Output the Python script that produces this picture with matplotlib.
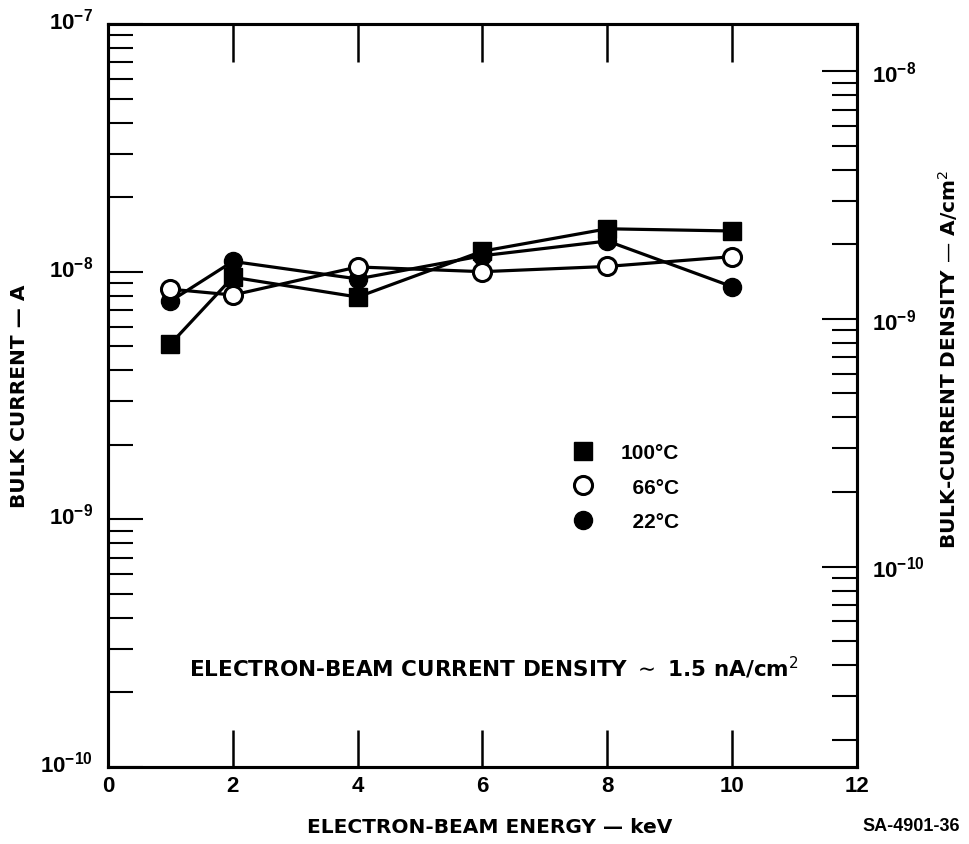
"""
Bulk current vs electron-beam energy (log plot with current-density axis)
"""

import matplotlib
matplotlib.use('Agg')
import matplotlib.pyplot as plt
import matplotlib.transforms as mtransforms
from matplotlib.lines import Line2D
from matplotlib.ticker import LogLocator, NullFormatter

plt.rcParams['font.family'] = ['Liberation Sans', 'DejaVu Sans']
plt.rcParams['axes.unicode_minus'] = True

# data
energy_kev = [1, 2, 4, 6, 8, 10]
current_100c = [5.1e-9, 9.5e-9, 7.9e-9, 1.21e-8, 1.49e-8, 1.46e-8]
current_66c = [8.5e-9, 8.05e-9, 1.045e-8, 1.0e-8, 1.05e-8, 1.15e-8]
current_22c = [7.6e-9, 1.10e-8, 9.35e-9, 1.16e-8, 1.33e-8, 8.7e-9]
sample_area_cm2 = 6.45  # 1 in^2

x_ticks = [0, 2, 4, 6, 8, 10, 12]
y_lim = (1e-10, 1e-7)

label_font = dict(family='DejaVu Sans', fontweight='bold', fontsize=14.5)
tick_size = 16

fig = plt.figure(figsize=(9.7, 8.45), dpi=100)
ax = fig.add_axes([0.1113, 0.0911, 0.7722, 0.8793])

lw = 2.3
ax.plot(energy_kev, current_100c, color='black', lw=lw, marker='s', ms=12.5,
        mfc='black', mec='black', zorder=3)
ax.plot(energy_kev, current_22c, color='black', lw=lw, marker='o', ms=13,
        mfc='black', mec='black', zorder=3)
ax.plot(energy_kev, current_66c, color='black', lw=lw, marker='o', ms=13,
        mfc='white', mec='black', mew=2.2, zorder=4)

ax.set_yscale('log')
ax.set_ylim(*y_lim)
ax.set_xlim(0, 12)
ax.set_xticks(x_ticks)

for sp in ax.spines.values():
    sp.set_linewidth(2.2)

ax.tick_params(axis='x', which='major', direction='in', length=27, width=1.8,
               top=True, bottom=True, pad=6)
ax.tick_params(axis='y', which='major', direction='in', length=25, width=1.5,
               right=False, pad=11)
ax.tick_params(axis='y', which='minor', direction='in', length=18, width=1.5,
               right=False)
ax.yaxis.set_major_locator(LogLocator(base=10, numticks=10))
ax.yaxis.set_minor_locator(LogLocator(base=10, subs=range(2, 10), numticks=20))
ax.yaxis.set_minor_formatter(NullFormatter())

# right axis: current density (current / sample area)
ax2 = ax.twinx()
ax2.set_yscale('log')
ax2.set_ylim(y_lim[0] / sample_area_cm2, y_lim[1] / sample_area_cm2)
ax2.yaxis.set_major_locator(LogLocator(base=10, numticks=10))
ax2.yaxis.set_minor_locator(LogLocator(base=10, subs=range(2, 10), numticks=20))
ax2.yaxis.set_minor_formatter(NullFormatter())
ax2.tick_params(axis='y', which='major', direction='in', length=25, width=1.5, pad=11)
ax2.tick_params(axis='y', which='minor', direction='in', length=18, width=1.5)
ax2.tick_params(axis='x', which='both', bottom=False, top=False,
                labelbottom=False, labeltop=False)
for sp in ax2.spines.values():
    sp.set_linewidth(2.2)

ax.set_xlabel('ELECTRON-BEAM ENERGY — keV', **label_font)
ax.xaxis.set_label_coords(0.51, -0.067)
ax.set_ylabel('BULK CURRENT — A', **label_font)
ax.yaxis.set_label_coords(-0.106, 0.50)
ax2.set_ylabel('BULK-CURRENT DENSITY — A/cm$^2$', **label_font)
ax2.yaxis.set_label_coords(1.106, 0.55)

ax.text(0.515, 0.135, 'ELECTRON-BEAM CURRENT DENSITY $\\sim$ 1.5 nA/cm$^2$',
        transform=ax.transAxes, ha='center', va='center',
        family='DejaVu Sans', fontweight='bold', fontsize=15.5)

handles = [
    Line2D([], [], ls='none', marker='s', ms=12.5, mfc='black', mec='black'),
    Line2D([], [], ls='none', marker='o', ms=13, mfc='white', mec='black', mew=2.2),
    Line2D([], [], ls='none', marker='o', ms=13, mfc='black', mec='black'),
]
labels = ['100°C', '  66°C', '  22°C']
ax2.legend(handles, labels, loc='upper left', bbox_to_anchor=(0.604, 0.45),
           frameon=False, prop=dict(family='Liberation Sans', weight='bold', size=15),
           handlelength=1.2, handletextpad=1.2, labelspacing=0.75, borderpad=0)

fig.text(0.889, 0.012, 'SA-4901-36', fontsize=13, fontweight='bold',
         ha='left', va='bottom')

fig.canvas.draw()
for lab in ax.get_xticklabels() + ax.get_yticklabels() + ax2.get_yticklabels():
    lab.set_fontsize(tick_size)
    lab.set_fontweight('bold')
# left decade labels sit a little above their ticks
shift_up = mtransforms.ScaledTranslation(0, 6 / 100, fig.dpi_scale_trans)
for lab in ax.get_yticklabels():
    lab.set_transform(lab.get_transform() + shift_up)

fig.savefig('out.png', dpi=100)
